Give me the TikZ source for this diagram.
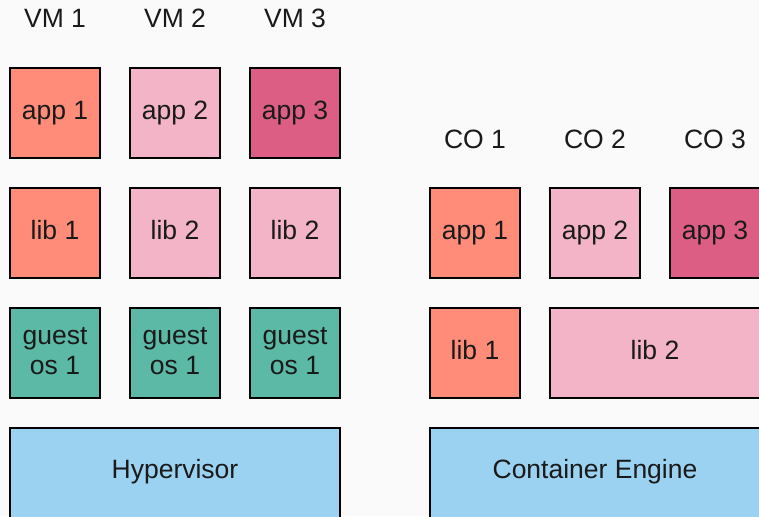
\documentclass[tikz,border=0pt]{standalone}
\usepackage{fontspec}
\setmainfont{Liberation Sans}
\definecolor{bgpaper}{HTML}{FAFAFA}
\definecolor{salmon}{HTML}{FF8C78}
\definecolor{pinklight}{HTML}{F4B4C8}
\definecolor{pinkdark}{HTML}{DC5E85}
\definecolor{teal}{HTML}{5BB9A6}
\definecolor{skyblue}{HTML}{9BD2F2}
\definecolor{ink}{HTML}{1A1A1A}
\begin{document}
\begin{tikzpicture}[x=1pt,y=-1pt,
    layer/.style={draw=black,line width=2.2pt,inner sep=0pt,align=center,text=ink,
        minimum width=90pt,minimum height=90pt,text height=19pt,text depth=7pt,
        font=\fontsize{26.5}{30}\selectfont},
    title/.style={text=ink,inner sep=0pt,text height=19pt,text depth=7pt,
        font=\fontsize{26.5}{30}\selectfont}]
    \useasboundingbox (0,0) rectangle (759,516);
    \clip (0,0) rectangle (759,516);
    \fill[bgpaper] (0,0) rectangle (759,516);
    % virtual machines
    \foreach \i/\x/\ac/\lc/\ln in {1/55/salmon/salmon/1,2/175/pinklight/pinklight/2,3/295/pinkdark/pinklight/2} {
        \node[title] (vm\i) at (\x,22) {VM \i};
        \node[layer,fill=\ac] (vmapp\i) at (\x,113) {app \i};
        \node[layer,fill=\lc] (vmlib\i) at (\x,233) {lib \ln};
        \node[layer,fill=teal,text height=49pt] (guest\i) at (\x,353) {guest\\os 1};
    }
    \node[layer,fill=skyblue,minimum width=330pt] (hyper) at (175,473) {};
    \node[title] at (175,472) {Hypervisor};
    % containers
    \foreach \i/\x/\ac in {1/475/salmon,2/595/pinklight,3/715/pinkdark} {
        \node[title] (co\i) at (\x,142) {CO \i};
        \node[layer,fill=\ac] (coapp\i) at (\x,233) {app \i};
    }
    \node[layer,fill=salmon] (colib1) at (475,353) {lib 1};
    \node[layer,fill=pinklight,minimum width=210pt] (colib2) at (655,353) {lib 2};
    \node[layer,fill=skyblue,minimum width=330pt] (engine) at (595,473) {};
    \node[title] at (595,472) {Container Engine};
\end{tikzpicture}
\end{document}
